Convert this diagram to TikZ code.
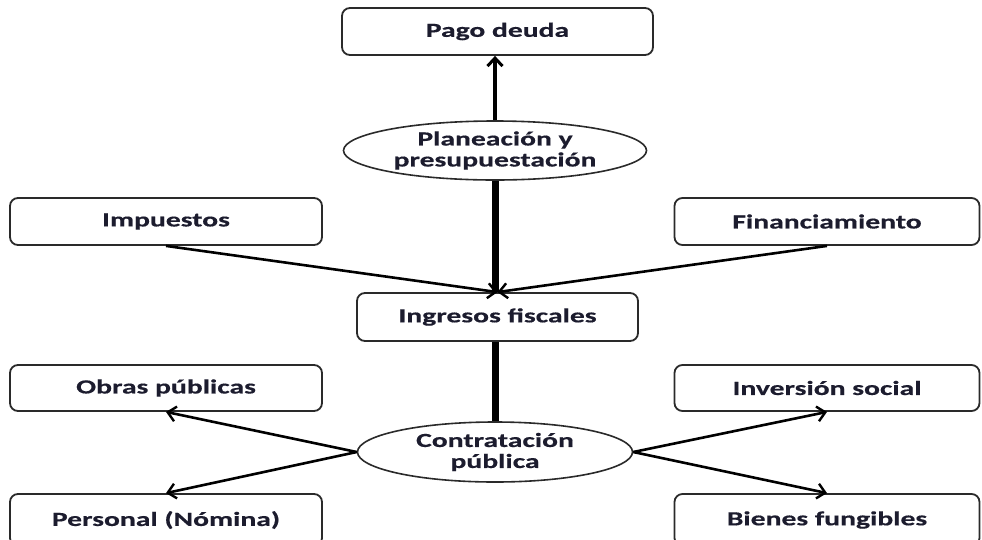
\documentclass[tikz,border=0pt]{standalone}
\usepackage{fontspec}
\setmainfont{Carlito}[FakeStretch=1.48, BoldFeatures={FakeBold=0.5}]
\usetikzlibrary{shapes.geometric,arrows.meta}
\definecolor{txt}{HTML}{1C1C2E}
\definecolor{edge}{HTML}{2A2A2A}
\tikzset{
  box/.style={draw=edge, line width=1.8pt, rounded corners=8pt, rectangle, inner sep=0pt,
    text=txt, font=\fontsize{20}{22}\selectfont\bfseries},
  oval/.style={draw=edge, line width=1.6pt, ellipse, inner sep=0pt},
  otext/.style={text=txt, align=center, font=\fontsize{20}{21}\selectfont\bfseries},
  link/.style={line width=2.6pt, -{Straight Barb[length=8pt,width=15pt,line width=2.4pt]}},
  trunk/.style={line width=7pt},
}
\begin{document}
\begin{tikzpicture}[x=1pt,y=-1pt]
\useasboundingbox (0,0) rectangle (982,539);
\clip (0,0) rectangle (982,539);
% boxes
\node[box, minimum width=311pt, minimum height=47pt] (pago) at (497.5,31.5) {Pago deuda};
\node[box, minimum width=312pt, minimum height=47pt] (imp) at (166,221.5) {Impuestos};
\node[box, minimum width=305pt, minimum height=47pt] (fin) at (827,221.5) {Financiamiento};
\node[box, minimum width=281pt, minimum height=48pt] (ing) at (497.5,317) {Ingresos fiscales};
\node[box, minimum width=312pt, minimum height=46pt] (obr) at (166,388) {Obras públicas};
\node[box, minimum width=305pt, minimum height=46pt] (inv) at (827,388) {Inversión social};
\node[box, minimum width=312pt, minimum height=52pt] (per) at (166,520) {Personal (Nómina)};
\node[box, minimum width=305pt, minimum height=52pt] (bie) at (827,520) {Bienes fungibles};
% ellipses
\node[oval, minimum width=303pt, minimum height=59pt,
  label={[otext]center:Planeación y\\presupuestación}] (plan) at (495,150.5) {};
\node[oval, minimum width=275pt, minimum height=60pt,
  label={[otext]center:Contratación\\pública}] (cont) at (495,452) {};
% connectors
\draw[trunk] (ing.north -| plan.south) -- (plan.south);
\draw[line width=3.8pt, -{Straight Barb[length=8pt,width=15pt,line width=3pt]}] (plan.north) -- (pago.south -| plan.north);
\draw[trunk] (cont.north) -- (ing.south -| cont.north);
\draw[link] (imp.south) -- (ing.north);
\draw[link] (fin.south) -- (ing.north);
\draw[link] (cont.west) -- (obr.south);
\draw[link] (cont.west) -- (per.north);
\draw[link] (cont.east) -- (inv.south);
\draw[link] (cont.east) -- (bie.north);
\end{tikzpicture}
\end{document}
